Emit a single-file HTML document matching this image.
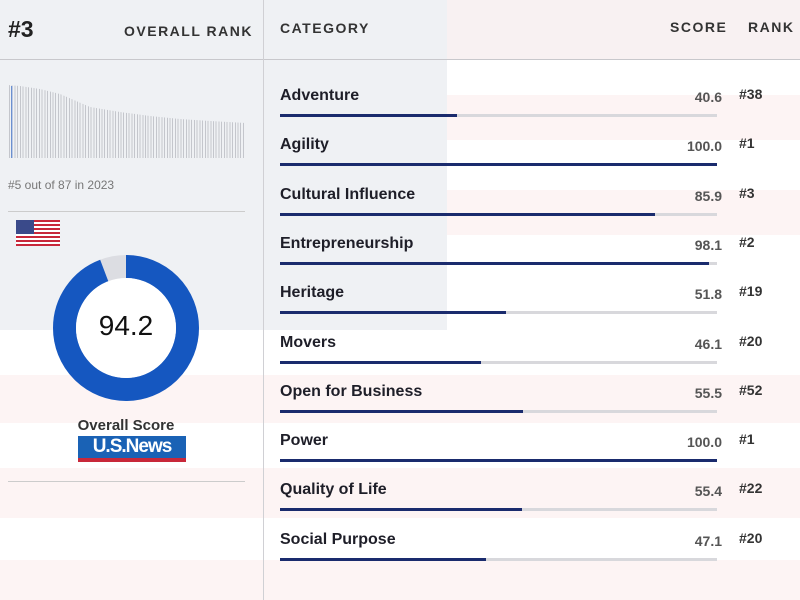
<!DOCTYPE html>
<html><head><meta charset="utf-8"><style>
*{margin:0;padding:0;box-sizing:border-box}
body{width:800px;height:600px;position:relative;overflow:hidden;background:#fff;font-family:"Liberation Sans",sans-serif;color:#222}
.abs{position:absolute}
.stripe{position:absolute;left:0;width:800px;background:rgba(215,60,70,0.06)}
.lbl{position:absolute;left:280px;font-size:16px;font-weight:bold;color:#1e1e28}
.sc{position:absolute;width:60px;left:662px;text-align:right;font-size:14px;font-weight:bold;color:#555}
.rk{position:absolute;left:739px;font-size:14px;font-weight:bold;color:#333}
.tr{position:absolute;left:280px;width:437px;height:3px;background:#d8d8dc}
.fl{height:3px;background:#1a2b6d}
.hd{position:absolute;font-size:14px;font-weight:bold;letter-spacing:1.5px;color:#333}
</style></head><body>
<div class="stripe" style="top:0;height:60px;background:rgba(235,215,218,0.35)"></div>
<div class="stripe" style="top:95px;height:45px"></div>
<div class="stripe" style="top:190px;height:45px"></div>
<div class="stripe" style="top:375px;height:48px"></div>
<div class="stripe" style="top:468px;height:50px"></div>
<div class="stripe" style="top:560px;height:40px"></div>
<div class="abs" style="left:0;top:0;width:447px;height:330px;background:#eff1f4"></div>
<div class="abs" style="left:0;top:59px;width:800px;height:1px;background:#c8c8cc"></div>
<div class="abs" style="left:263px;top:0;width:1px;height:600px;background:#d0d0d4"></div>
<div class="abs" style="left:8px;top:16px;font-size:23px;font-weight:bold;color:#222">#3</div>
<div class="hd" style="left:124px;top:23px">OVERALL RANK</div>
<div class="hd" style="left:280px;top:20px">CATEGORY</div>
<div class="hd" style="left:670px;top:19px">SCORE</div>
<div class="hd" style="left:748px;top:19px">RANK</div>
<div class="abs" style="left:9px;top:85px;width:236px;height:73px;background:repeating-linear-gradient(90deg,#c4c6cc 0 1px,transparent 1px 2.72px)"></div>
<svg class="abs" style="left:0;top:80px" width="263" height="80">
<polygon points="8,0 8,5 20,6 40,9 60,14 90,27 120,32 150,36 180,39 210,41 246,43 246,0" fill="#eff1f4"/>
<rect x="11" y="6" width="1.3" height="72" fill="#6a8fd0"/>
</svg>
<div class="abs" style="left:8px;top:178px;font-size:12px;color:#777">#5 out of 87 in 2023</div>
<div class="abs" style="left:8px;top:211px;width:237px;height:1px;background:#ccc"></div>
<svg class="abs" style="left:16px;top:220px" width="44" height="26"><rect width="44" height="26" fill="#fff"/><g fill="#c8283a"><rect y="0" width="44" height="2"/><rect y="4" width="44" height="2"/><rect y="8" width="44" height="2"/><rect y="12" width="44" height="2"/><rect y="16" width="44" height="2"/><rect y="20" width="44" height="2"/><rect y="24" width="44" height="2"/></g><rect width="18" height="14" fill="#3a4a8a"/></svg>
<svg class="abs" style="left:0;top:240px" width="263" height="180">
<circle cx="126" cy="88" r="61.5" fill="none" stroke="#dcdde2" stroke-width="23"/>
<circle cx="126" cy="88" r="61.5" fill="none" stroke="#1557c0" stroke-width="23" stroke-dasharray="364 400" transform="rotate(-90 126 88)"/>
<circle cx="126" cy="88" r="50" fill="#fff"/>
</svg>
<div class="abs" style="left:66px;top:310px;width:120px;text-align:center;font-size:28px;color:#111">94.2</div>
<div class="abs" style="left:56px;top:417px;width:140px;text-align:center;font-size:15px;font-weight:bold;color:#333">Overall Score</div>
<div class="abs" style="left:78px;top:436px;width:108px;height:26px;background:#1a62b5;color:#fff;font-weight:bold;font-size:19px;text-align:center;line-height:22px;letter-spacing:-1px">U.S.News</div>
<div class="abs" style="left:78px;top:458px;width:108px;height:4px;background:#c8283a"></div>
<div class="abs" style="left:8px;top:481px;width:237px;height:1px;background:#ccc"></div>

<div class="lbl" style="top:87px">Adventure</div><div class="sc" style="top:89px">40.6</div><div class="rk" style="top:86px">#38</div><div class="tr" style="top:114px"><div class="fl" style="width:40.6%"></div></div>
<div class="lbl" style="top:136px">Agility</div><div class="sc" style="top:138px">100.0</div><div class="rk" style="top:135px">#1</div><div class="tr" style="top:163px"><div class="fl" style="width:100%"></div></div>
<div class="lbl" style="top:186px">Cultural Influence</div><div class="sc" style="top:188px">85.9</div><div class="rk" style="top:185px">#3</div><div class="tr" style="top:213px"><div class="fl" style="width:85.9%"></div></div>
<div class="lbl" style="top:235px">Entrepreneurship</div><div class="sc" style="top:237px">98.1</div><div class="rk" style="top:234px">#2</div><div class="tr" style="top:262px"><div class="fl" style="width:98.1%"></div></div>
<div class="lbl" style="top:284px">Heritage</div><div class="sc" style="top:286px">51.8</div><div class="rk" style="top:283px">#19</div><div class="tr" style="top:311px"><div class="fl" style="width:51.8%"></div></div>
<div class="lbl" style="top:334px">Movers</div><div class="sc" style="top:336px">46.1</div><div class="rk" style="top:333px">#20</div><div class="tr" style="top:361px"><div class="fl" style="width:46.1%"></div></div>
<div class="lbl" style="top:383px">Open for Business</div><div class="sc" style="top:385px">55.5</div><div class="rk" style="top:382px">#52</div><div class="tr" style="top:410px"><div class="fl" style="width:55.5%"></div></div>
<div class="lbl" style="top:432px">Power</div><div class="sc" style="top:434px">100.0</div><div class="rk" style="top:431px">#1</div><div class="tr" style="top:459px"><div class="fl" style="width:100%"></div></div>
<div class="lbl" style="top:481px">Quality of Life</div><div class="sc" style="top:483px">55.4</div><div class="rk" style="top:480px">#22</div><div class="tr" style="top:508px"><div class="fl" style="width:55.4%"></div></div>
<div class="lbl" style="top:531px">Social Purpose</div><div class="sc" style="top:533px">47.1</div><div class="rk" style="top:530px">#20</div><div class="tr" style="top:558px"><div class="fl" style="width:47.1%"></div></div>
</body></html>
